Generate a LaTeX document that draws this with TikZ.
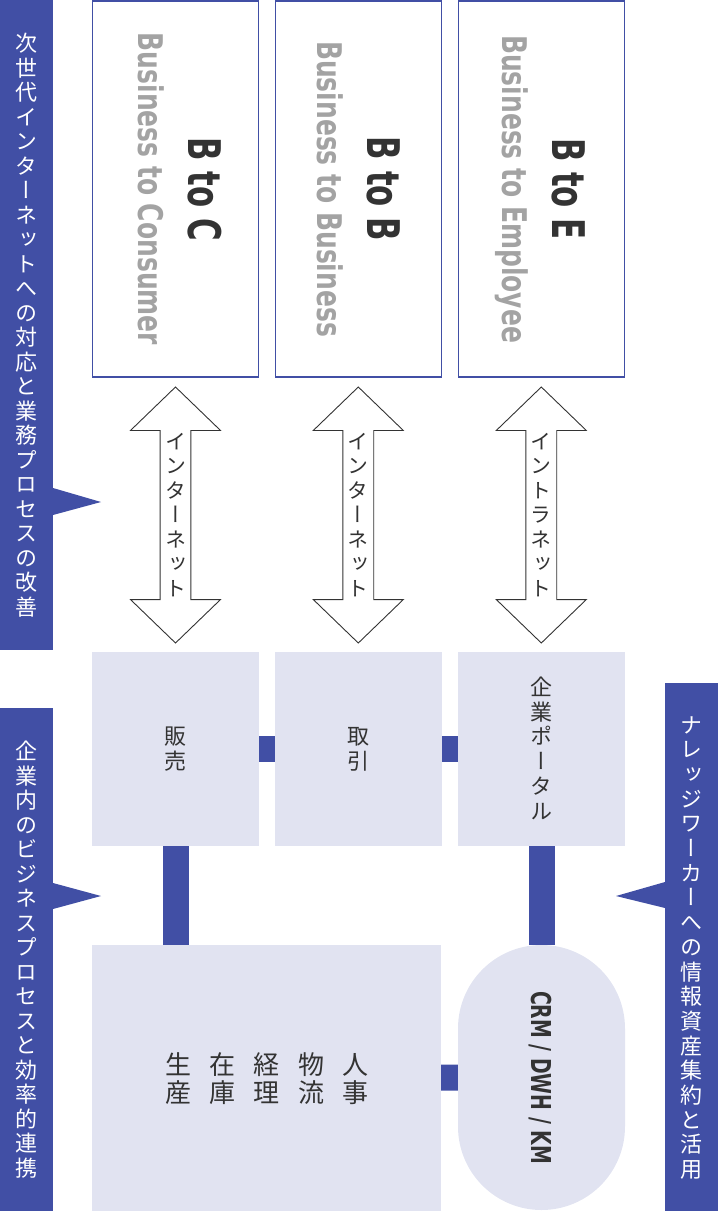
\documentclass[tikz,border=0pt]{standalone}
\usepackage{fontspec}
\usepackage{graphicx}
\usepackage{tikz}
\usetikzlibrary{shapes,arrows,positioning,calc}
\newfontfamily\jp{Noto Sans CJK JP}[RawFeature=+vert]
\newfontfamily\cond{DejaVu Sans Condensed}

\definecolor{navy}{HTML}{414FA5}
\definecolor{lav}{HTML}{E1E3F1}
\definecolor{ink}{HTML}{333333}
\definecolor{mute}{HTML}{A3A3A3}

\makeatletter
\def\tate@do{\@tfor\tate@c:=}
\newcommand\tate[2]{\edef\tate@list{#2}\vbox{\baselineskip=#1\lineskiplimit=-\maxdimen\lineskip=0pt
  \expandafter\tate@do\tate@list\do{\hbox to 1em{\hss\vrule height .88em depth .12em width 0pt\tate@c\hss}}}}
\makeatother

\tikzset{
  topbox/.style={draw=navy, line width=1.4pt, fill=white, minimum width=166, minimum height=376, inner sep=0},
  title/.style={rotate=-90, text=ink, inner sep=0, text height=33pt, text depth=0pt,
    font=\cond\bfseries\fontsize{45}{45}\selectfont},
  subtitle/.style={rotate=-90, text=mute, inner sep=0, text height=25pt, text depth=0pt,
    font=\cond\bfseries\fontsize{34}{34}\selectfont},
  netarrow/.style={double arrow, draw=ink, line width=0.9pt, fill=white, inner sep=0,
    double arrow head extend=21pt, double arrow tip angle=92, minimum height=256, minimum width=90,
    shape border rotate=90, font=\jp\fontsize{21}{21}\selectfont, text=ink},
  midbox/.style={fill=lav, minimum width=167, minimum height=194, inner sep=0, text=ink,
    font=\jp\fontsize{22}{22}\selectfont},
  colname/.style={inner sep=0, text=ink, font=\jp\fontsize{26}{26}\selectfont},
  banner/.style={fill=navy, text=white, minimum width=53, inner sep=0, font=\jp\fontsize{22}{22}\selectfont},
  link/.style={navy, line width=26pt}
}

\begin{document}
\begin{tikzpicture}[x=1pt,y=-1pt]
\useasboundingbox (0,0) rectangle (718,1211);

% banners
\node[banner, minimum height=650] (kaizen) at (26.5,325) {\tate{24.5pt}{次世代インターネットへの対応と業務プロセスの改善}};
\fill[navy] (53,488) -- (101,502) -- (53,515) -- cycle;
\node[banner, minimum height=503] (renkei) at (26.5,959.5) {\tate{24.5pt}{企業内のビジネスプロセスと効率的連携}};
\fill[navy] (53,883) -- (101,896) -- (53,909) -- cycle;
\node[banner, minimum height=528] (katsuyo) at (691.5,947) {\tate{24.7pt}{ナレッジワーカーへの情報資産集約と活用}};
\fill[navy] (665,882) -- (616,896) -- (665,908) -- cycle;

% top boxes
\foreach \n/\x/\ti/\su/\dt/\ds in {btoc/175.5/B to C/Business to Consumer/29.5/-25,
    btob/358.3/B to B/Business to Business/25.3/-28.8,
    btoe/541.3/B to E/Business to Employee/27.3/-26} {
  \node[topbox] (\n) at (\x,189) {};
  \node[title] (\n-t) at ([xshift=\dt]\n.center) {\scalebox{0.76}[1]{\ti}};
  \node[subtitle] (\n-s) at ([xshift=\ds]\n.center) {\scalebox{0.816}[1]{\su}};
}

% arrows
\node[netarrow] (netc) at (175.5,515) {\tate{24.5pt}{インターネット}};
\node[netarrow] (netb) at (358.3,515) {\tate{24.5pt}{インターネット}};
\node[netarrow] (nete) at (541.3,515) {\tate{24.5pt}{イントラネット}};

% middle row
\node[midbox] (hanbai) at (175.5,749) {\tate{25pt}{販売}};
\node[midbox] (torihiki) at (358.3,749) {\tate{25pt}{取引}};
\node[midbox] (portal) at (541.5,749) {\tate{24.8pt}{企業ポータル}};

% bottom row
\node[fill=lav, minimum width=349, minimum height=266, inner sep=0] (kikan) at (266.5,1078) {};
\foreach \n/\x/\w in {jinji/355/人事, butsuryu/311/物流, keiri/266.5/経理, zaiko/222/在庫, seisan/178/生産}
  \node[colname] (\n) at (\x,1079) {\tate{28pt}{\w}};
\node[fill=lav, minimum width=167, minimum height=265, inner sep=0, rounded corners=83.5] (crm) at (541.5,1077.5) {};
\node[rotate=-90, text=ink, inner sep=0, text height=20pt, text depth=0pt,
  font=\cond\bfseries\fontsize{27.4}{27.4}\selectfont] (crm-t) at (crm.center) {\scalebox{0.765}[1]{CRM / DWH / KM}};

% links
\draw[link] (hanbai) -- (torihiki);
\draw[link] (torihiki) -- (portal);
\draw[link] (hanbai.south) -- (hanbai.south |- kikan.north);
\draw[link] (portal) -- (crm);
\draw[link] (kikan) -- (crm);
\end{tikzpicture}
\end{document}
